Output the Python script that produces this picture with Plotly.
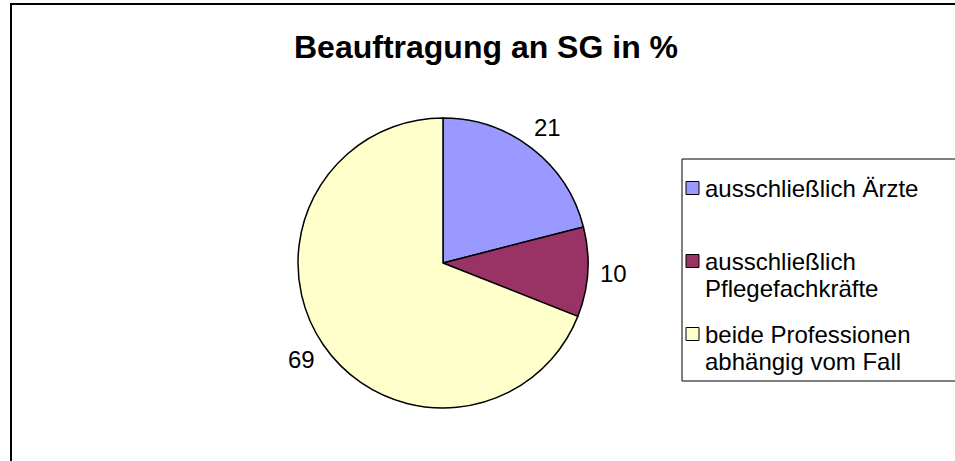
import math
import plotly.graph_objects as go

# ---- data ----
categories = ["ausschließlich Ärzte", "ausschließlich\nPflegefachkräfte", "beide Professionen\nabhängig vom Fall"]
values = [21, 10, 69]
colors = ["#9999FF", "#993366", "#FFFFCC"]
title_text = "Beauftragung an SG in %"

W, H = 955, 461
FONT = "Liberation Sans, Arial, sans-serif"

def px(x):
    return x / W

def py(y):
    return 1 - y / H

cx, cy, r = 443, 263, 145

fig = go.Figure(go.Pie(
    labels=[c.replace("\n", " ") for c in categories],
    values=values,
    marker=dict(colors=colors, line=dict(color="black", width=1.5)),
    sort=False,
    direction="clockwise",
    rotation=0,
    textinfo="none",
    hoverinfo="label+value",
    showlegend=False,
    domain=dict(x=[px(cx - r), px(cx + r)], y=[py(cy + r), py(cy - r)]),
))

annotations = []
shapes = []

# data labels outside the slices, positioned from the values
total = sum(values)
cum = 0
for v in values:
    mid = (cum + v / 2) / total * 2 * math.pi
    cum += v
    d = r * 1.18
    lx = cx + d * math.sin(mid)
    ly = cy - d * math.cos(mid)
    annotations.append(dict(
        x=px(lx), y=py(ly), xref="paper", yref="paper",
        text=str(v), showarrow=False, xanchor="center", yanchor="middle",
        font=dict(family=FONT, size=24, color="black"),
    ))

# outer chart border
shapes.append(dict(type="rect", xref="paper", yref="paper",
                   x0=px(11), x1=px(975), y0=py(480), y1=py(4),
                   line=dict(color="black", width=2), fillcolor="rgba(0,0,0,0)"))

# legend box
shapes.append(dict(type="rect", xref="paper", yref="paper",
                   x0=px(682), x1=px(975), y0=py(381), y1=py(159),
                   line=dict(color="black", width=1), fillcolor="rgba(0,0,0,0)"))

item_y = [188, 261, 334]
line_h = 27.5
for cat, col, y0 in zip(categories, colors, item_y):
    shapes.append(dict(type="rect", xref="paper", yref="paper",
                       x0=px(686), x1=px(699), y0=py(y0 + 6.5), y1=py(y0 - 6.5),
                       line=dict(color="black", width=1), fillcolor=col))
    for i, line in enumerate(cat.split("\n")):
        annotations.append(dict(
            x=px(703), y=py(y0 + i * line_h), xref="paper", yref="paper",
            text=line, showarrow=False, xanchor="left", yanchor="middle",
            font=dict(family=FONT, size=24, color="black"),
        ))

fig.update_layout(
    width=W, height=H,
    margin=dict(l=0, r=0, t=0, b=0),
    paper_bgcolor="white", plot_bgcolor="white",
    title=dict(text="<b>" + title_text + "</b>", x=px(486), xanchor="center",
               y=py(47), yanchor="middle",
               font=dict(family=FONT, size=32, color="black")),
    annotations=annotations,
    shapes=shapes,
)

fig.write_html(
    "out.html",
    config={"displayModeBar": False},
    post_script="document.body.style.margin='0';document.body.style.overflow='hidden';",
)
